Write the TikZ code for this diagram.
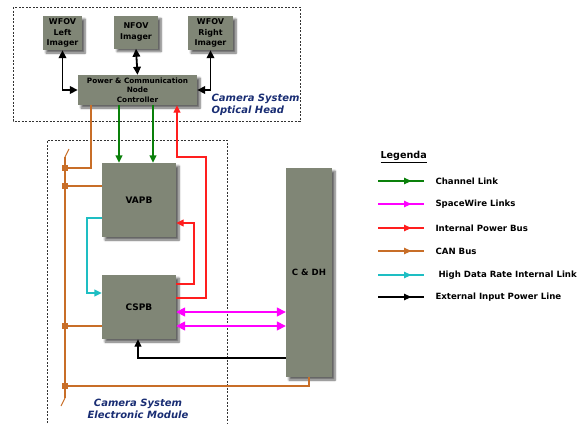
\documentclass[tikz,border=0pt]{standalone}
\usepackage{fontspec}
\setmainfont{DejaVu Sans}
\usetikzlibrary{arrows.meta,shadows.blur,decorations.markings}

\definecolor{boxfill}{RGB}{128,134,118}
\definecolor{chanc}{RGB}{10,128,10}
\definecolor{spwc}{RGB}{255,0,255}
\definecolor{pwrc}{RGB}{255,30,30}
\definecolor{canc}{RGB}{200,110,40}
\definecolor{hdrc}{RGB}{30,190,195}
\definecolor{titlec}{RGB}{25,45,115}

\tikzset{
  unit/.style={draw=none, fill=boxfill, inner sep=0pt, align=center,
    font=\bfseries\fontsize{8}{10.5}\selectfont,
    blur shadow={shadow xshift=3pt, shadow yshift=-3pt, shadow blur radius=2pt,
      shadow blur steps=6, shadow opacity=60}},
  tip/.style={-{Triangle[length=7.5pt,width=7pt]}},
  dtip/.style={{Triangle[length=8pt,width=7.5pt]}-{Triangle[length=8pt,width=7.5pt]}},
  ext/.style={draw=black, line width=1.8pt},
  chan/.style={draw=chanc, line width=1.4pt},
  spw/.style={draw=spwc, line width=1.5pt},
  pwr/.style={draw=pwrc, line width=1.4pt},
  can/.style={draw=canc, line width=1.4pt},
  hdr/.style={draw=hdrc, line width=1.4pt},
  blk/.style={draw=black, line width=1.2pt},
  junc/.style={fill=canc, minimum size=6pt, inner sep=0pt},
  frame/.style={draw=black!80, line width=0.6pt, dash pattern=on 2pt off 1.5pt},
  grouptitle/.style={text=titlec, font=\bfseries\itshape\fontsize{10}{12.5}\selectfont},
  legtext/.style={anchor=west, font=\bfseries\fontsize{8.6}{10}\selectfont},
  legline/.style={postaction={decorate}, decoration={markings,
    mark=at position 0.72 with {\arrow{Triangle[length=7pt,width=6.5pt]}}}}
}

\begin{document}
\begin{tikzpicture}[x=1pt,y=-1pt]
\useasboundingbox (0,0) rectangle (586,423);

% group frames
\draw[frame] (13,7) rectangle (300,121);
\draw[frame] (47,430) -- (47,140) -- (227,140) -- (227,430);

% optical head units
\node[unit, minimum width=39pt, minimum height=34pt] (wl) at (62.5,33) {WFOV\\Left\\Imager};
\node[unit, minimum width=44pt, minimum height=33pt] (nf) at (136,32) {NFOV\\Imager};
\node[unit, minimum width=45pt, minimum height=34pt] (wr) at (210.5,33) {WFOV\\Right\\Imager};
\node[unit, minimum width=119pt, minimum height=30pt,
      font=\bfseries\fontsize{7.3}{9.5}\selectfont] (pcnc) at (137.5,90)
      {Power \& Communication\\Node\\Controller};

% electronic module units
\node[unit, minimum width=74pt, minimum height=74pt, font=\bfseries\fontsize{9}{11}\selectfont] (vapb) at (139,200) {VAPB};
\node[unit, minimum width=74pt, minimum height=64pt, font=\bfseries\fontsize{9}{11}\selectfont] (cspb) at (139,307) {CSPB};
\node[unit, minimum width=46pt, minimum height=209pt, font=\bfseries\fontsize{8.6}{11}\selectfont] (cdh) at (309,272.5) {C \& DH};

% group titles
\node[grouptitle, anchor=west, align=left] (ohtitle) at (208,105) {Camera System\\Optical Head};
\node[grouptitle, align=center] (emtitle) at (138,409) {Camera System\\Electronic Module};

% imager links
\draw[ext, dtip] (wl.south) |- (pcnc.west);
\draw[ext, dtip] (nf.south) -- (pcnc.north);
\draw[ext, dtip] (wr.south) |- (pcnc.east);

% channel links
\coordinate (g1) at (119,0);
\coordinate (g2) at (153,0);
\draw[chan, tip] (g1 |- pcnc.south) -- (g1 |- vapb.north);
\draw[chan, tip] (g2 |- pcnc.south) -- (g2 |- vapb.north);

% CAN bus
\coordinate (bt) at (65,157);
\coordinate (bb) at (65,398);
\draw[can] (bt) -- (bb);
\draw[can, line width=1pt] (bt) -- (69,149);
\draw[can, line width=1pt] (bb) -- (61,406);
\node[junc] (j1) at (65,168) {};
\node[junc] (j2) at (65,186) {};
\node[junc] (j3) at (65,326) {};
\node[junc] (j4) at (65,386) {};
\coordinate (o1) at (91,0);
\draw[can] (o1 |- pcnc.south) |- (j1);
\draw[can] (j2) -- (j2 -| vapb.west);
\draw[can] (j3) -- (j3 -| cspb.west);
\draw[can] (j4) -| (cdh.south);

% high data rate internal link
\coordinate (c1) at (0,218);
\coordinate (ck) at (87,293);
\draw[hdr, tip] (c1 -| vapb.west) -| (ck) -- (ck -| cspb.west);

% internal power bus
\coordinate (r1a) at (177,157);
\coordinate (r1b) at (206,298);
\draw[pwr, {Triangle[length=7.5pt,width=7pt]}-] (r1a |- pcnc.south) -- (r1a) -| (r1b) -- (r1b -| cspb.east);
\coordinate (r2b) at (194,284);
\coordinate (r2t) at (194,223);
\draw[pwr, tip] (r2b -| cspb.east) -- (r2b) -- (r2t) -- (r2t -| vapb.east);

% SpaceWire links
\coordinate (m1) at (0,312);
\coordinate (m2) at (0,326);
\draw[spw, {Triangle[length=9pt,width=9pt]}-{Triangle[length=9pt,width=9pt]}] (m1 -| cspb.east) -- (m1 -| cdh.west);
\draw[spw, {Triangle[length=9pt,width=9pt]}-{Triangle[length=9pt,width=9pt]}] (m2 -| cspb.east) -- (m2 -| cdh.west);

% external input power line
\coordinate (k) at (138,358);
\draw[blk, tip] (k -| cdh.west) -- (k) -- (k |- cspb.south);

% legend
\node[anchor=west, font=\bfseries\fontsize{9.6}{11}\selectfont] (legtitle) at (377,157) {\underline{Legenda}};
\foreach \y/\sty/\txt/\nm [count=\i] in {
  181/chan/Channel Link/lchan,
  204/spw/SpaceWire Links/lspw,
  228/pwr/Internal Power Bus/lpwr,
  251/can/CAN Bus/lcan,
  275/hdr/\ High Data Rate Internal Link/lhdr,
  297/blk/External Input Power Line/lext} {
  \coordinate (la\i) at (378,\y);
  \coordinate (lb\i) at (424,\y);
  \draw[\sty, line width=1.1pt, legline] (la\i) -- (lb\i);
  \node[legtext] (\nm) at (432,\y) {\txt};
}
\end{tikzpicture}
\end{document}
